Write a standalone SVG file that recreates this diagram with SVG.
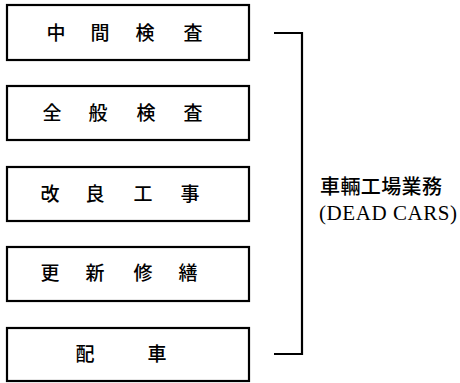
<svg xmlns="http://www.w3.org/2000/svg" width="460" height="383" viewBox="0 0 460 383">
<style>
.box{fill:#fff;stroke:#000;stroke-width:2.2}
.t{font-family:"Noto Sans CJK JP","Noto Sans CJK SC",sans-serif;font-size:19px;font-weight:500;fill:#000;text-anchor:middle}
.lbl{font-family:"Noto Sans CJK JP",sans-serif;font-size:20px;font-weight:500;fill:#000}
.en{font-family:"Liberation Serif",serif;font-size:21px;fill:#000}
.br{fill:none;stroke:#000;stroke-width:2.2}
</style>
<rect width="460" height="383" fill="#fff"/>
<g id="n1"><rect class="box" x="7" y="5" width="242" height="55"/><text class="t" x="56 100 145 193" y="40">中間検査</text></g>
<g id="n2"><rect class="box" x="7" y="86" width="242" height="54"/><text class="t" x="52 98 146 193" y="120">全般検査</text></g>
<g id="n3"><rect class="box" x="7" y="167" width="242" height="54"/><text class="t" x="50 95 143 190" y="201">改良工事</text></g>
<g id="n4"><rect class="box" x="7" y="247" width="242" height="54"/><text class="t" x="50 95 143 188" y="280">更新修繕</text></g>
<g id="n5"><rect class="box" x="7" y="328" width="242" height="53"/><text class="t" x="85 157" y="361">配車</text></g>
<g id="connectors"><path class="br" d="M274 33 H302 V354 H274"/></g>
<g id="label"><text class="lbl" x="320" y="194" textLength="122">車輛工場業務</text><text class="en" x="319" y="220" textLength="138">(DEAD CARS)</text></g>
</svg>
